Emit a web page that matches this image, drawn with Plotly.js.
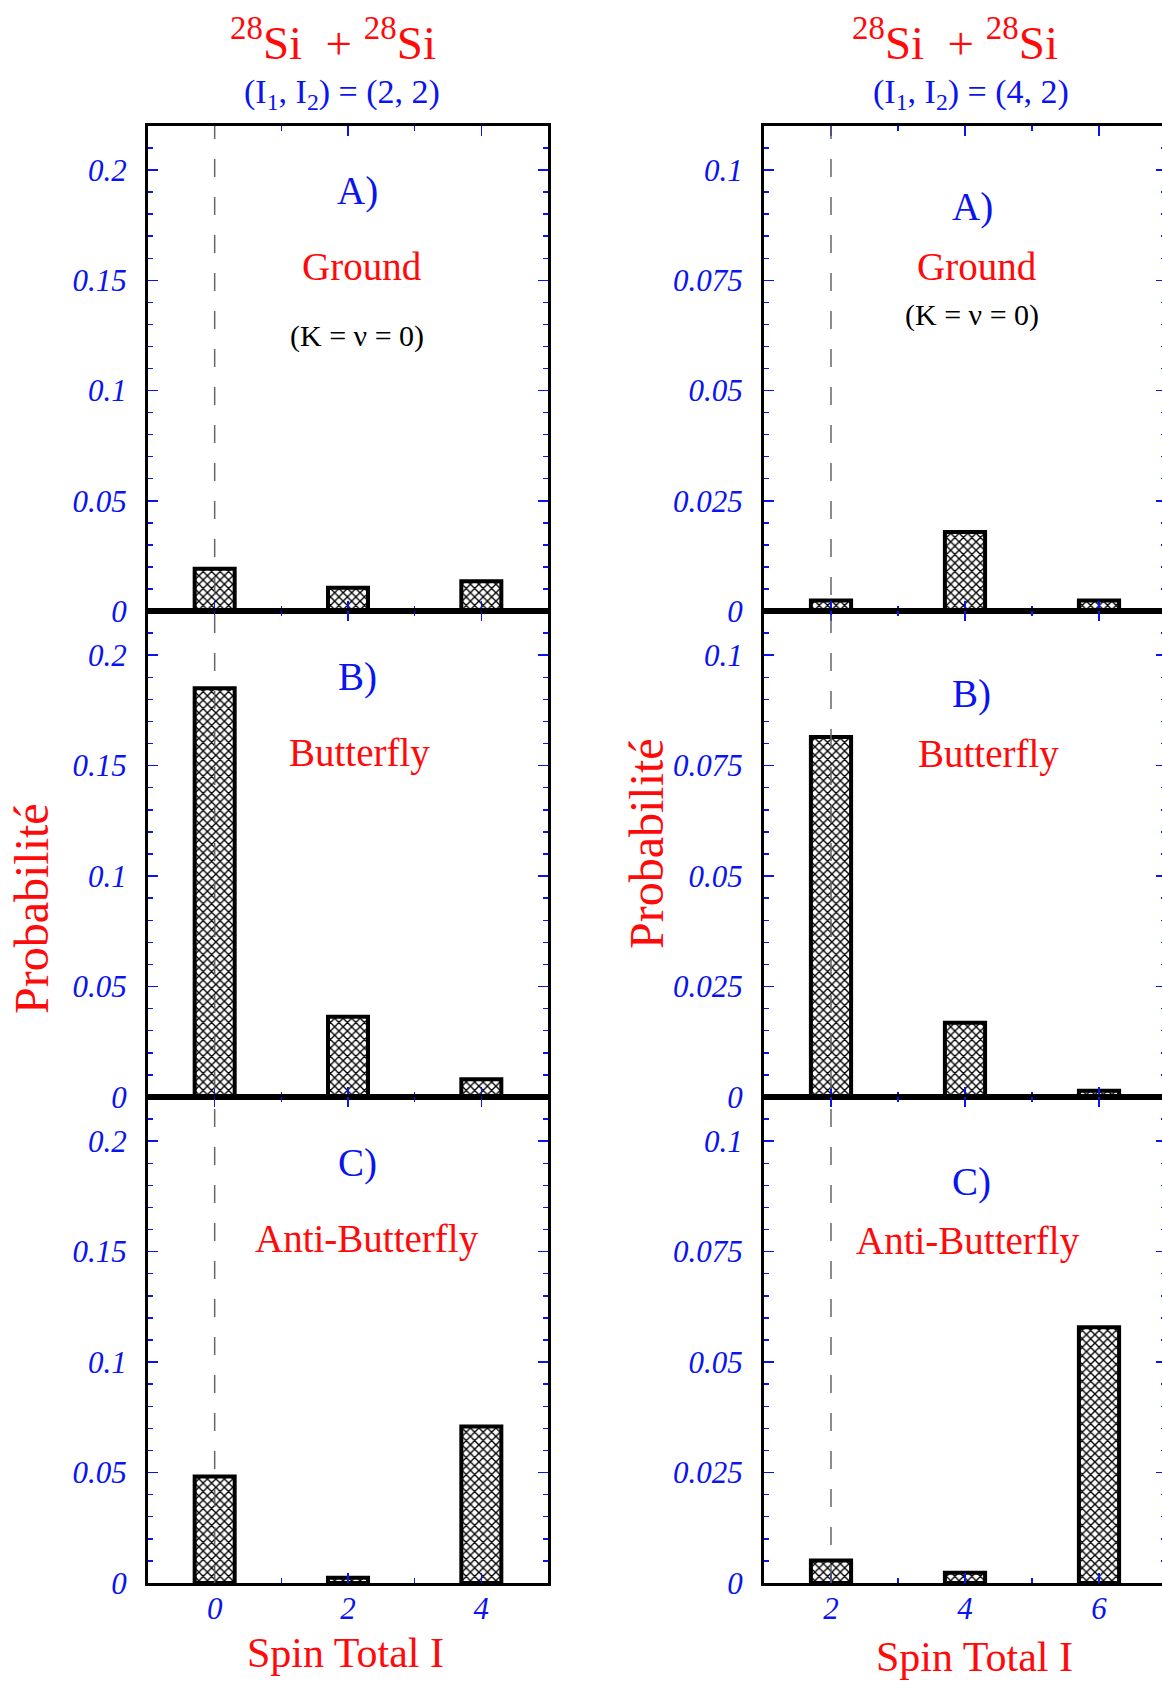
<!DOCTYPE html>
<html>
<head>
<meta charset="utf-8">
<script src="https://cdn.plot.ly/plotly-3.0.1.min.js"></script>
<style>
html,body{margin:0;padding:0;overflow:hidden;background:#fff;}
#chart{width:1170px;height:1683px;}
</style>
</head>
<body>
<div id="chart"></div>
<script>
// ---- data ----
const spinLeft = [0, 2, 4];
const spinRight = [2, 4, 6];
const groundLeft = [0.0192, 0.0106, 0.0135];
const butterflyLeft = [0.185, 0.0363, 0.0080];
const antiLeft = [0.0482, 0.0024, 0.0709];
const groundRight = [0.0024, 0.0179, 0.0024];
const butterflyRight = [0.0815, 0.0168, 0.0014];
const antiRight = [0.0051, 0.0023, 0.0579];
const yTickValsLeft = [0, 0.05, 0.1, 0.15, 0.2];
const yTickTextLeft = ['0', '0.05', '0.1', '0.15', '0.2'];
const yTickValsRight = [0, 0.025, 0.05, 0.075, 0.1];
const yTickTextRight = ['0', '0.025', '0.05', '0.075', '0.1'];
const xTickTextLeft = ['0', '2', '4'];
const xTickTextRight = ['2', '4', '6'];
const panelLetters = ['A)', 'B)', 'C)'];
const panelNames = ['Ground', 'Butterfly', 'Anti-Butterfly'];

// ---- layout helpers ----
const W = 1170, H = 1683;
const FONT = 'Liberation Serif, Times New Roman, serif';
const BLUE = '#0a14f0', RED = '#ff0a0a';
const px = v => v / W;
const py = v => 1 - v / H;
const colX = [[148, 548], [764, 1166]];
const rowY = [[126, 611], [611, 1097], [1097, 1583]];

const series = [
  [groundLeft, butterflyLeft, antiLeft],
  [groundRight, butterflyRight, antiRight]
];
const spins = [spinLeft, spinRight];
const xRanges = [[-1, 5], [1, 7]];
const yRanges = [[0, 0.22], [0, 0.11]];
const yMinor = [0.01, 0.005];
const yTV = [yTickValsLeft, yTickValsRight];
const yTT = [yTickTextLeft, yTickTextRight];
const xTT = [xTickTextLeft, xTickTextRight];

const traces = [];
const layout = {
  width: W, height: H,
  margin: {l: 0, r: 0, t: 0, b: 0},
  paper_bgcolor: '#fff', plot_bgcolor: '#fff',
  showlegend: false,
  font: {family: FONT},
  annotations: [], shapes: []
};

let n = 0;
for (let c = 0; c < 2; c++) {
  for (let r = 0; r < 3; r++) {
    n++;
    const xs = n === 1 ? '' : String(n);
    traces.push({
      type: 'bar', x: spins[c], y: series[c][r],
      xaxis: 'x' + xs, yaxis: 'y' + xs,
      width: 0.6,
      marker: {color: '#fff', line: {color: '#000', width: 4},
               pattern: {shape: 'x', fgcolor: '#000', bgcolor: '#fff', size: 6, solidity: 0.4}},
      hoverinfo: 'skip'
    });
    layout['xaxis' + xs] = {
      domain: [px(colX[c][0]), px(colX[c][1])],
      anchor: 'y' + xs, range: xRanges[c],
      showline: true, linecolor: '#000', linewidth: 3, mirror: 'ticks',
      ticks: 'inside', ticklen: 10, tickwidth: 1.5, tickcolor: BLUE,
      tickvals: spins[c], ticktext: xTT[c],
      showticklabels: r === 2, ticklabelstandoff: -4,
      tickfont: {family: FONT, size: 31, color: BLUE, style: 'italic'},
      minor: {ticks: 'inside', dtick: 1, tick0: 0, ticklen: 5, tickwidth: 1.5, tickcolor: BLUE, showgrid: false},
      showgrid: false, zeroline: false, fixedrange: true
    };
    layout['yaxis' + xs] = {
      domain: [py(rowY[r][1]), py(rowY[r][0])],
      anchor: 'x' + xs, range: yRanges[c],
      showline: true, linecolor: '#000', linewidth: 3, mirror: 'ticks',
      ticks: 'inside', ticklen: 10, tickwidth: 1.5, tickcolor: BLUE,
      tickvals: yTV[c], ticktext: yTT[c],
      ticklabelstandoff: 12,
      tickfont: {family: FONT, size: 31, color: BLUE, style: 'italic'},
      minor: {ticks: 'inside', dtick: yMinor[c], tick0: 0, ticklen: 5, tickwidth: 1.5, tickcolor: BLUE, showgrid: false},
      showgrid: false, zeroline: false, fixedrange: true
    };
  }
}

// dashed reference lines
layout.shapes.push({type: 'line', xref: 'x', yref: 'paper', x0: spinLeft[0], x1: spinLeft[0],
  y0: py(1583), y1: py(126), line: {color: '#666', width: 1.5, dash: '18px,20px'}, layer: 'above'});
layout.shapes.push({type: 'line', xref: 'x4', yref: 'paper', x0: spinRight[0], x1: spinRight[0],
  y0: py(1583), y1: py(126), line: {color: '#666', width: 1.5, dash: '18px,20px'}, layer: 'above'});

function ann(text, x, y, size, color, extra) {
  layout.annotations.push(Object.assign({
    text: text, xref: 'paper', yref: 'paper', x: px(x), y: py(y),
    xanchor: 'center', yanchor: 'middle', showarrow: false,
    font: {family: FONT, size: size, color: color}
  }, extra || {}));
}

// titles
const nbsp = '\u00a0';
ann('<sup>28</sup>Si' + nbsp + nbsp + '+' + nbsp + '<sup>28</sup>Si', 333, 39, 47, RED);
ann('<sup>28</sup>Si' + nbsp + nbsp + '+' + nbsp + '<sup>28</sup>Si', 955, 39, 47, RED);
ann('(I<sub>1</sub>, I<sub>2</sub>) = (2, 2)', 342, 94, 34, BLUE);
ann('(I<sub>1</sub>, I<sub>2</sub>) = (4, 2)', 971, 94, 34, BLUE);

// panel labels
const letterPos = [[[357, 191], [357, 677], [357, 1163]], [[972, 207], [971, 694], [971, 1182]]];
const namePos = [[[362, 266], [359, 753], [367, 1239]], [[977, 266], [988, 754], [968, 1241]]];
for (let c = 0; c < 2; c++) {
  for (let r = 0; r < 3; r++) {
    ann(panelLetters[r], letterPos[c][r][0], letterPos[c][r][1], 39, BLUE);
    ann(panelNames[r], namePos[c][r][0], namePos[c][r][1], 39, RED);
  }
}
ann('(K = \u03bd = 0)', 357, 336, 30, '#000');
ann('(K = \u03bd = 0)', 972, 315, 30, '#000');

// axis titles
ann('Probabilité', 31, 909, 48, RED, {textangle: -90});
ann('Probabilité', 646, 844, 48, RED, {textangle: -90});
ann('Spin Total I', 345, 1653, 42, RED);
ann('Spin Total I', 974, 1657, 42, RED);

Plotly.newPlot('chart', traces, layout, {staticPlot: true, displayModeBar: false});
</script>
</body>
</html>
